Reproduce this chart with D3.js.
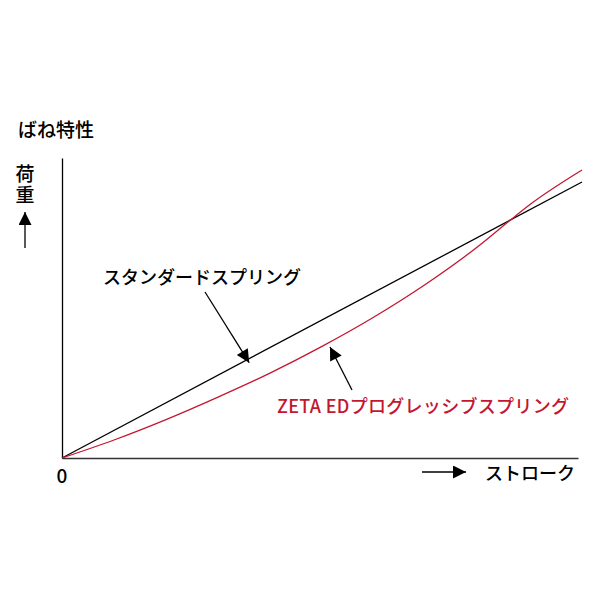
<!DOCTYPE html>
<html>
<head>
<meta charset="utf-8">
<script src="https://cdn.jsdelivr.net/npm/d3@7"></script>
<style>
  body { margin: 0; background: #fff; }
  text { font-family: "Noto Sans CJK JP", "Noto Sans", sans-serif; }
</style>
</head>
<body>
<svg id="chart" width="600" height="600"></svg>
<script>
// stroke positions (0-100) and load values (0-100)
const strokeStandard = [0, 100];
const loadStandard = [0, 92];
const strokeZeta = [0, 10, 20, 30, 40, 50, 60, 70, 80, 86, 90, 100];
const loadZeta = [0, 6, 12.8, 20.3, 28.3, 37.2, 47, 58, 70.5, 79, 84.5, 96];

const titleText = "ばね特性";
const yLabel = "荷重";
const xLabel = "ストローク";
const standardLabel = "スタンダードスプリング";
const zetaLabel = "ZETA EDプログレッシブスプリング";

const red = "#c3172f";

const svg = d3.select("#chart");

// scales
const x = d3.scaleLinear().domain([0, 100]).range([62, 582]);
const y = d3.scaleLinear().domain([0, 100]).range([458, 158]);

// arrow marker
const defs = svg.append("defs");
defs.append("marker")
  .attr("id", "head")
  .attr("viewBox", "0 0 10 10")
  .attr("refX", 10)
  .attr("refY", 5)
  .attr("markerUnits", "userSpaceOnUse")
  .attr("markerWidth", 15)
  .attr("markerHeight", 13)
  .attr("orient", "auto")
  .append("path")
  .attr("d", "M0,0L10,5L0,10Z")
  .attr("fill", "#000");

// axes (no ticks)
svg.append("g")
  .attr("transform", `translate(0,${y(0)})`)
  .call(d3.axisBottom(x.copy().range([62, 578])).ticks(0).tickSizeOuter(0))
  .select(".domain").attr("stroke", "#333").attr("stroke-width", 1.3);

svg.append("g")
  .attr("transform", `translate(${x(0)},0)`)
  .call(d3.axisLeft(y).ticks(0).tickSizeOuter(0))
  .select(".domain").attr("stroke", "#000").attr("stroke-width", 1.3);

// lines
const line = d3.line()
  .x((d) => x(d[0]))
  .y((d) => y(d[1]))
  .curve(d3.curveMonotoneX);

svg.append("path")
  .datum(d3.zip(strokeStandard, loadStandard))
  .attr("d", line)
  .attr("fill", "none")
  .attr("stroke", "#000")
  .attr("stroke-width", 1.3);

svg.append("path")
  .datum(d3.zip(strokeZeta, loadZeta))
  .attr("d", line)
  .attr("fill", "none")
  .attr("stroke", red)
  .attr("stroke-width", 1.3);

// title
svg.append("text")
  .attr("x", 18)
  .attr("y", 137)
  .attr("font-size", 19)
  .attr("font-weight", 500)
  .text(titleText);

// y label, written vertically
svg.append("text")
  .attr("x", 25)
  .attr("y", 164)
  .attr("writing-mode", "vertical-rl")
  .attr("letter-spacing", 2.5)
  .attr("font-size", 19)
  .attr("font-weight", 500)
  .text(yLabel);

// y arrow
svg.append("line")
  .attr("x1", 25).attr("y1", 248)
  .attr("x2", 25).attr("y2", 212)
  .attr("stroke", "#000").attr("stroke-width", 1.3)
  .attr("marker-end", "url(#head)");

// origin label
svg.append("text")
  .attr("x", x(0))
  .attr("y", 483)
  .attr("text-anchor", "middle")
  .attr("font-size", 19)
  .attr("font-weight", 500)
  .text("0");

// x arrow + label
svg.append("line")
  .attr("x1", 422).attr("y1", 472)
  .attr("x2", 466).attr("y2", 472)
  .attr("stroke", "#000").attr("stroke-width", 1.3)
  .attr("marker-end", "url(#head)");

svg.append("text")
  .attr("x", 485)
  .attr("y", 480)
  .attr("font-size", 18)
  .attr("font-weight", 500)
  .text(xLabel);

// standard label + pointer
svg.append("text")
  .attr("x", 103)
  .attr("y", 284)
  .attr("font-size", 18)
  .attr("font-weight", 500)
  .text(standardLabel);

svg.append("line")
  .attr("x1", 205).attr("y1", 292)
  .attr("x2", x(36)).attr("y2", y(36 * 0.92) + 4)
  .attr("stroke", "#000").attr("stroke-width", 1.3)
  .attr("marker-end", "url(#head)");

// zeta label + pointer
svg.append("text")
  .attr("x", 277)
  .attr("y", 413)
  .attr("font-size", 18)
  .attr("font-weight", 500)
  .attr("letter-spacing", 0.3)
  .attr("fill", red)
  .text(zetaLabel);

svg.append("line")
  .attr("x1", 352).attr("y1", 390)
  .attr("x2", 330).attr("y2", 347)
  .attr("stroke", "#000").attr("stroke-width", 1.3)
  .attr("marker-end", "url(#head)");
</script>
</body>
</html>
